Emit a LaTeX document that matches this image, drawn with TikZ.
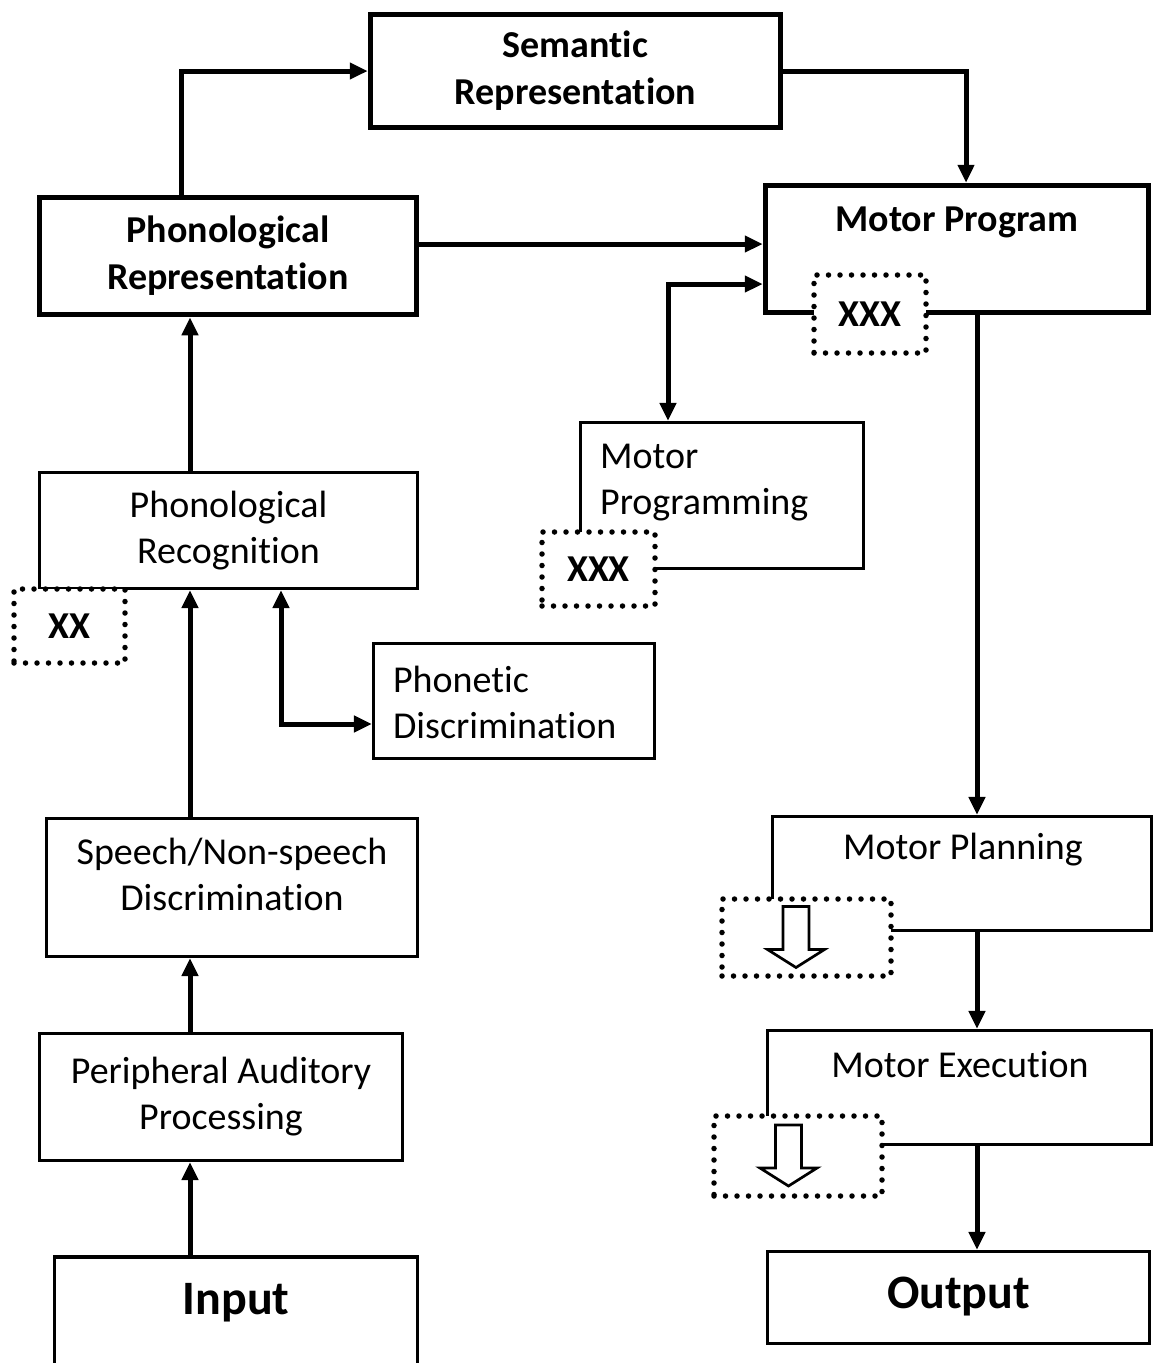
\documentclass[tikz,border=0pt]{standalone}
\usepackage{fontspec}
\setmainfont{Carlito}[Ligatures=NoCommon]
\usetikzlibrary{arrows.meta,calc}

\begin{document}
\begin{tikzpicture}[x=1pt,y=-1pt,
  txt/.style={font=\fontsize{38}{46}\selectfont, align=center, inner sep=0pt},
  btxt/.style={font=\fontsize{38}{47}\selectfont\bfseries, align=center, inner sep=0pt},
  box/.style={draw, line width=3.2pt, inner sep=0pt},
  heavybox/.style={draw, line width=5.5pt, inner sep=0pt},
  dotbox/.style={draw, fill=white, line width=5.5pt, line cap=round,
    dash pattern=on 0pt off 11.5pt, inner sep=0pt,
    font=\fontsize{38}{46}\selectfont\bfseries},
  conn/.style={line width=5pt, -{Triangle[length=18pt,width=16pt]}},
  dconn/.style={line width=5pt, {Triangle[length=18pt,width=16pt]}-{Triangle[length=18pt,width=16pt]}},
  hollowdown/.pic={
    \draw[line width=2.7pt, fill=white, line join=miter]
      (-13,-31) -- (13,-31) -- (13,12) -- (28.5,12) -- (0,30)
      -- (-28.5,12) -- (-13,12) -- cycle;
  }
]
% page
\path[use as bounding box, fill=white] (0,0) rectangle (1159,1363);

% vertical spines of the two pathways
\coordinate (lspine) at (190,0);
\coordinate (rspine) at (977,0);

% upper level
\node[heavybox, minimum width=410, minimum height=113, btxt] (sem) at (575.5,71)
  {Semantic\\Representation};
\node[heavybox, minimum width=377, minimum height=117, btxt] (phrep) at (228,256)
  {Phonological\\Representation};
\node[heavybox, minimum width=383, minimum height=127] (mprog) at (957,249) {};
\node[btxt] (mprog-t) at (957,222) {Motor Program};

% input pathway
\node[box, minimum width=378, minimum height=116, txt] (phrec) at (228.5,530.5)
  {Phonological\\Recognition};
\node[box, minimum width=281, minimum height=115] (phdisc) at (514,701) {};
\node[txt, align=left, anchor=west] (phdisc-t) at ([xshift=21pt,yshift=-1pt]phdisc.west)
  {Phonetic\\Discrimination};
\node[box, minimum width=371, minimum height=138] (speech) at (232,887.5) {};
\node[txt] (speech-t) at (232,874) {Speech/Non-speech\\Discrimination};
\node[box, minimum width=363, minimum height=127, txt] (periph) at (221,1097)
  {Peripheral Auditory\\Processing};
\node[box, minimum width=363, minimum height=120] (input) at (236,1317) {};
\node[font=\fontsize{48}{56}\selectfont\bfseries, inner sep=0pt] (input-t) at (236,1303) {Input};

% output pathway
\node[box, minimum width=283, minimum height=146] (mpgm) at (722,495.5) {};
\node[txt, align=left, anchor=west] (mpgm-t) at ([xshift=21pt,yshift=13pt]mpgm.west)
  {Motor\\Programming};
\node[box, minimum width=379, minimum height=114] (mplan) at (962,873.5) {};
\node[txt] (mplan-t) at (963,850) {Motor Planning};
\node[box, minimum width=384, minimum height=114] (mexec) at (959.5,1087.5) {};
\node[txt] (mexec-t) at (960,1065) {Motor Execution};
\node[box, minimum width=382, minimum height=92] (output) at (958.5,1297.5) {};
\node[font=\fontsize{48}{56}\selectfont\bfseries, inner sep=0pt] (output-t) at (958.5,1297) {Output};

% connectors
\draw[conn] ([xshift=-47pt]phrep.north) |- (sem.west);
\draw[conn] (sem.east) -| ([xshift=9pt]mprog.north);
\draw[conn] ([yshift=12pt]phrep.east) -- ([yshift=12pt]phrep.east -| mprog.west);
\draw[dconn] ([yshift=-35pt]mprog.west) -| ([xshift=-54pt]mpgm.north);

\draw[conn] (phrec.north -| lspine) -- (phrep.south -| lspine);
\draw[conn] (speech.north -| lspine) -- (phrec.south -| lspine);
\draw[conn] (periph.north -| lspine) -- (speech.south -| lspine);
\draw[conn] (input.north -| lspine) -- (periph.south -| lspine);
\coordinate (pdturn) at (281,0);
\draw[dconn] (phrec.south -| pdturn) |- ([yshift=-23pt]phdisc.west);

\draw[conn] (mprog.south -| rspine) -- (mplan.north -| rspine);
\draw[conn] (mplan.south -| rspine) -- (mexec.north -| rspine);
\draw[conn] (mexec.south -| rspine) -- (output.north -| rspine);

% dotted markers
\node[dotbox, minimum width=112, minimum height=78] (d1) at (870,314) {XXX};
\node[dotbox, minimum width=113, minimum height=74] (d2) at (598.5,569) {XXX};
\node[dotbox, minimum width=111, minimum height=74] (d3) at (69.5,626) {XX};
\node[dotbox, minimum width=169, minimum height=77] (d4) at (806.5,937.5) {};
\node[dotbox, minimum width=168, minimum height=80] (d5) at (798,1156) {};
\pic at ($(d4.center)+(-10.5,0)$) {hollowdown};
\pic at ($(d5.center)+(-9.5,0)$) {hollowdown};
\end{tikzpicture}
\end{document}
